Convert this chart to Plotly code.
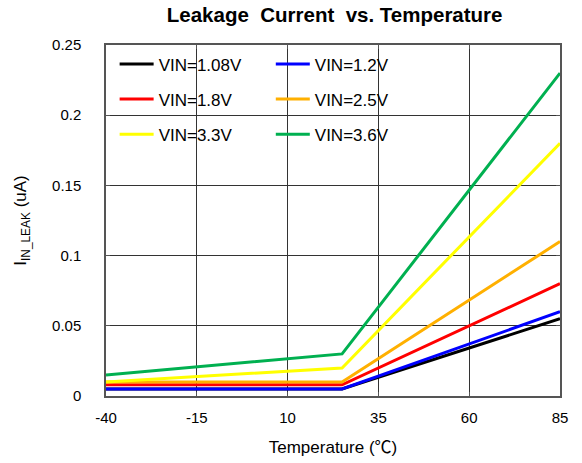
import plotly.graph_objects as go

temps = [-40, 25, 85]
series_names = ["VIN=1.08V", "VIN=1.2V", "VIN=1.8V", "VIN=2.5V", "VIN=3.3V", "VIN=3.6V"]
vin_108 = [0.005, 0.005, 0.055]
vin_12 = [0.005, 0.005, 0.06]
vin_18 = [0.008, 0.008, 0.08]
vin_25 = [0.01, 0.01, 0.11]
vin_33 = [0.01, 0.02, 0.18]
vin_36 = [0.015, 0.03, 0.23]
series_values = [vin_108, vin_12, vin_18, vin_25, vin_33, vin_36]
colors = ["#000000", "#0000FF", "#FF0000", "#FFB000", "#FFFF00", "#00B050"]
legend_ids = ["legend", "legend2", "legend", "legend2", "legend", "legend2"]

x_ticks = [-40, -15, 10, 35, 60, 85]
y_ticks = [0, 0.05, 0.1, 0.15, 0.2, 0.25]
y_tick_labels = ["0", "0.05", "0.1", "0.15", "0.2", "0.25"]

FONT = "Arial, Liberation Sans, sans-serif"

fig = go.Figure()
for name, vals, col, lg in zip(series_names, series_values, colors, legend_ids):
    fig.add_trace(go.Scatter(
        x=temps, y=vals, mode="lines", name=name,
        line=dict(color=col, width=3),
        legend=lg, legendgroup=name,
    ))

# white panel behind the legend that hides the grid there
fig.add_shape(type="rect", xref="paper", yref="paper",
              x0=0, x1=0.696, y0=0.695, y1=1.0,
              fillcolor="white", line=dict(width=0), layer="between")

leg_common = dict(yanchor="top", xanchor="left", bgcolor="rgba(0,0,0,0)",
                  borderwidth=0, tracegroupgap=10, itemwidth=34,
                  font=dict(family=FONT, size=17, color="#000000"))

fig.update_layout(
    width=582, height=463,
    margin=dict(l=106, r=22, t=45, b=67, autoexpand=False),
    paper_bgcolor="white", plot_bgcolor="white",
    font=dict(family=FONT, color="#000000", size=15),
    title=dict(text="<b>Leakage  Current  vs. Temperature</b>",
               x=0.575, xanchor="center", y=0.967, yanchor="middle",
               font=dict(family=FONT, size=20.5, color="#000000")),
    legend=dict(x=0.019, y=0.996, **leg_common),
    legend2=dict(x=0.363, y=0.996, **leg_common),
    xaxis=dict(
        range=[-40, 85], tickvals=x_ticks, ticktext=[str(v) for v in x_ticks],
        showgrid=True, gridcolor="#333333", gridwidth=1,
        showline=True, linecolor="#555555", linewidth=1.5, mirror="ticks",
        ticks="inside", ticklen=4, tickcolor="#555555",
        zeroline=False, ticklabelstandoff=7, automargin=False,
        tickfont=dict(family=FONT, size=15, color="#000000"),
        title=dict(text="Temperature (<span style='font-family:Noto Sans CJK SC'>℃</span>)",
                   standoff=16,
                   font=dict(family=FONT, size=17, color="#000000")),
    ),
    yaxis=dict(
        range=[0, 0.25], tickvals=y_ticks, ticktext=y_tick_labels,
        showgrid=True, gridcolor="#333333", gridwidth=1,
        showline=True, linecolor="#555555", linewidth=1.5, mirror="ticks",
        ticks="inside", ticklen=4, tickcolor="#555555",
        zeroline=False, ticklabelstandoff=20, automargin=False,
        tickfont=dict(family=FONT, size=15, color="#000000"),
        title=dict(text="I<sub>IN_LEAK</sub> (uA)", standoff=21,
                   font=dict(family=FONT, size=17, color="#000000")),
    ),
)

# remove the page's default body margin so the figure sits at the window origin
fig.write_html("out.html", config={"displayModeBar": False},
               post_script="document.body.style.margin='0';")
